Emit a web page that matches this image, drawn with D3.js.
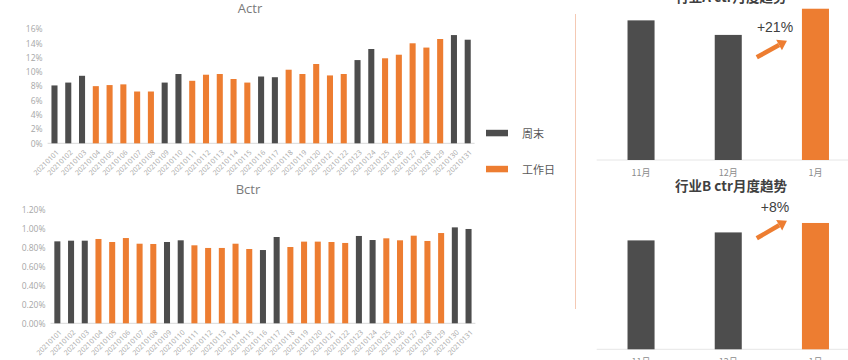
<!DOCTYPE html>
<html><head><meta charset="utf-8">
<script src="https://cdn.jsdelivr.net/npm/d3@7"></script>
<style>body{margin:0;background:#fff}svg{display:block;font-family:"Noto Sans CJK SC","Noto Sans",sans-serif}</style>
</head><body><svg id="c" width="848" height="360"></svg>
<script>
const dates = ["20210101","20210102","20210103","20210104","20210105","20210106","20210107","20210108","20210109","20210110","20210111","20210112","20210113","20210114","20210115","20210116","20210117","20210118","20210119","20210120","20210121","20210122","20210123","20210124","20210125","20210126","20210127","20210128","20210129","20210130","20210131"];
const dayType = ["周末","周末","周末","工作日","工作日","工作日","工作日","工作日","周末","周末","工作日","工作日","工作日","工作日","工作日","周末","周末","工作日","工作日","工作日","工作日","工作日","周末","周末","工作日","工作日","工作日","工作日","工作日","周末","周末"];
const actr = [8.1,8.5,9.45,8.0,8.15,8.25,7.25,7.25,8.5,9.7,8.75,9.6,9.7,9.0,8.5,9.35,9.25,10.3,9.7,11.1,9.5,9.7,11.65,13.2,11.9,12.4,14.0,13.4,14.6,15.15,14.5];
const bctr = [0.868,0.875,0.875,0.893,0.861,0.903,0.843,0.840,0.861,0.879,0.826,0.798,0.798,0.843,0.787,0.776,0.914,0.808,0.865,0.865,0.861,0.851,0.925,0.882,0.900,0.879,0.928,0.872,0.956,1.016,0.999];
const actrTicks = [0,2,4,6,8,10,12,14,16];
const bctrTicks = [0,0.2,0.4,0.6,0.8,1.0,1.2];
const legendItems = ["周末","工作日"];
const months = ["11月","12月","1月"];
const monthA = [9.6,8.6,10.4];
const monthB = [0.75,0.805,0.87];
const monthTitles = ["行业A ctr月度趋势","行业B ctr月度趋势"];
const monthChanges = ["+21%","+8%"];

const DARK = "#4d4d4d", ORANGE = "#ed7d31";
const color = d3.scaleOrdinal().domain(legendItems).range([DARK, ORANGE]);
const svg = d3.select("#c");

function daily(cfg){
  const g = svg.append("g");
  const x = d3.scaleBand().domain(dates).range(cfg.xr).paddingInner(0.56).paddingOuter(0.28);
  const y = d3.scaleLinear().domain(cfg.yd).range(cfg.yr);
  g.append("text").attr("x", cfg.titleX).attr("y", cfg.titleY).attr("text-anchor","middle")
    .attr("dominant-baseline","central").attr("fill","#7a7a7a").style("font-size","13px")
    .style("font-family","'Open Sans','Noto Sans',sans-serif").text(cfg.title);
  const ya = g.append("g").attr("transform",`translate(${cfg.xr[0]-3},0)`)
    .call(d3.axisLeft(y).tickValues(cfg.ticks).tickSize(0).tickPadding(2).tickFormat(cfg.fmt));
  ya.select(".domain").remove();
  ya.selectAll("text").attr("fill","#a6a6a6").style("font-size","8.5px").style("font-family","'Open Sans','Noto Sans',sans-serif");
  g.append("line").attr("x1",cfg.xr[0]).attr("x2",cfg.xr[1]).attr("y1",y(0)).attr("y2",y(0))
    .attr("stroke","#d9d9d9").attr("stroke-width",1);
  g.selectAll("rect.b").data(cfg.values).join("rect").attr("class","b")
    .attr("x",(d,i)=>x(dates[i])).attr("width",x.bandwidth())
    .attr("y",d=>y(d)).attr("height",d=>y(0)-y(d))
    .attr("fill",(d,i)=>color(dayType[i]));
  g.selectAll("text.d").data(dates).join("text").attr("class","d")
    .attr("transform",d=>`translate(${x(d)+x.bandwidth()/2+3},${y(0)+8}) rotate(-45)`)
    .attr("text-anchor","end").attr("dy","0.35em")
    .attr("fill","#a6a6a6").style("font-size","7px").style("font-family","'Open Sans','Noto Sans',sans-serif")
    .text(d=>d);
}

daily({title:"Actr", titleX:250, titleY:8, xr:[47.6,474.6], yd:[0,16], yr:[143.3,29.0], ticks:actrTicks,
  fmt:d=>d+"%", values:actr});
daily({title:"Bctr", titleX:248, titleY:189, xr:[50.5,475.4], yd:[0,1.2], yr:[323.3,210.0], ticks:bctrTicks,
  fmt:d=>d.toFixed(2)+"%", values:bctr});

// legend
const lg = svg.append("g");
legendItems.forEach((k,i)=>{
  const yy = 133 + i*36;
  lg.append("rect").attr("x",486).attr("y",yy-3.2).attr("width",22).attr("height",6.5).attr("fill",color(k));
  lg.append("text").attr("x",522).attr("y",yy).attr("dominant-baseline","central")
    .attr("fill","#595959").style("font-size","11px").text(k);
});

// divider
svg.append("line").attr("x1",575.5).attr("x2",575.5).attr("y1",14).attr("y2",309)
  .attr("stroke","#f4c9b4").attr("stroke-width",1);

// monthly panels
function monthly(p){
  const g = svg.append("g");
  const x = d3.scaleBand().domain(months).range([597,859.5]).paddingInner(0.69).paddingOuter(0.35);
  const y = d3.scaleLinear().domain(p.yd).range(p.yr);
  g.append("text").attr("x",731).attr("y",p.titleY).attr("text-anchor","middle").attr("dominant-baseline","central")
    .attr("fill","#404040").style("font-size","13.5px").style("font-weight","bold").text(p.title);
  g.append("line").attr("x1",596.7).attr("x2",848).attr("y1",y(0)).attr("y2",y(0)).attr("stroke","#e6e6e6");
  g.selectAll("rect").data(p.values).join("rect")
    .attr("x",(d,i)=>x(months[i])).attr("width",x.bandwidth())
    .attr("y",d=>y(d)).attr("height",d=>y(0)-y(d))
    .attr("fill",(d,i)=>i===2?ORANGE:DARK);
  g.selectAll("text.m").data(months).join("text").attr("class","m")
    .attr("x",d=>x(d)+x.bandwidth()/2).attr("y",y(0)+12).attr("text-anchor","middle").attr("dominant-baseline","central")
    .attr("fill","#8c8c8c").style("font-size","9px").text(d=>d);
  // arrow
  const x0 = x("12月")+x.bandwidth()+15, x1 = x("1月")-15;
  const y0 = p.arrowY[0], y1 = p.arrowY[1];
  const ang = Math.atan2(y1-y0, x1-x0);
  const hl = 9, hw = 6;
  const bx = x1 - hl*Math.cos(ang), by = y1 - hl*Math.sin(ang);
  g.append("line").attr("x1",x0).attr("y1",y0).attr("x2",bx).attr("y2",by)
    .attr("stroke",ORANGE).attr("stroke-width",4.5);
  const nx = -Math.sin(ang), ny = Math.cos(ang);
  g.append("path").attr("d",`M${x1},${y1}L${bx+nx*hw},${by+ny*hw}L${bx-nx*hw},${by-ny*hw}Z`).attr("fill",ORANGE);
  g.append("text").attr("x",775).attr("y",p.labelY).attr("text-anchor","middle").attr("dominant-baseline","central")
    .attr("fill","#404040").style("font-size","14px").style("font-family","'Liberation Sans',Arimo,sans-serif").text(p.change);
}
monthly({title:monthTitles[0], titleY:-4, values:monthA, yd:[0,11], yr:[160,0], arrowY:[57.3,40.7], labelY:27.3, change:monthChanges[0]});
monthly({title:monthTitles[1], titleY:185, values:monthB, yd:[0,1], yr:[349.3,204.1], arrowY:[238.3,220.7], labelY:206.7, change:monthChanges[1]});
</script></body></html>
